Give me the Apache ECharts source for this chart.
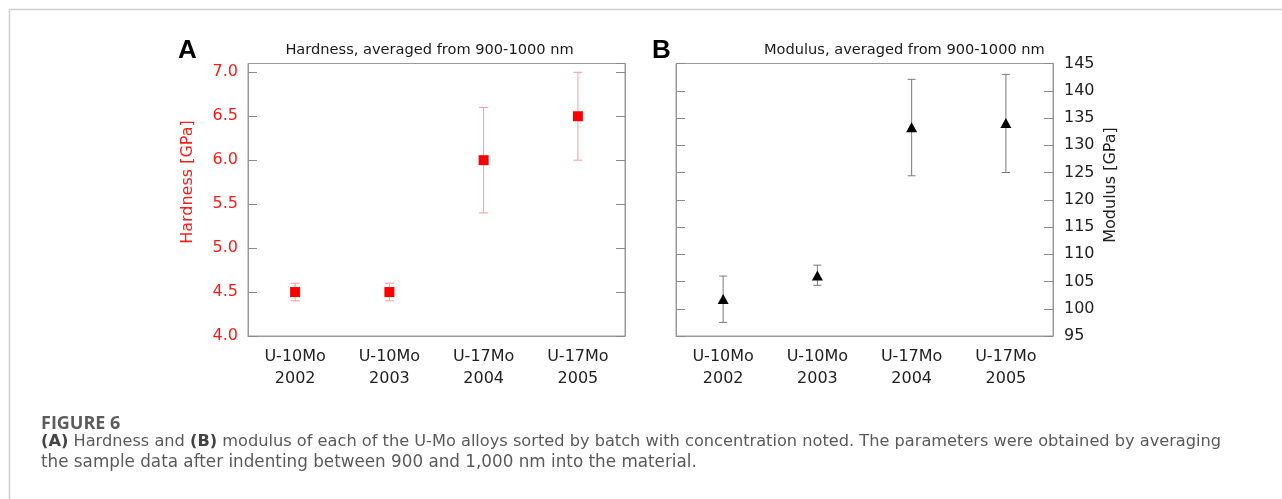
<!DOCTYPE html>
<html>
<head>
<meta charset="utf-8">
<script src="https://cdn.jsdelivr.net/npm/echarts@6/dist/echarts.min.js"></script>
<style>
  html, body { margin: 0; padding: 0; background: #fff; }
  #chart { width: 1282px; height: 499px; }
</style>
</head>
<body>
<div id="chart"></div>
<script>
// Batches (alloy + batch year)
const categories = ['U-10Mo\n2002', 'U-10Mo\n2003', 'U-17Mo\n2004', 'U-17Mo\n2005'];

// Hardness [GPa], averaged 900-1000 nm, with error range
const hardness     = [4.5, 4.5, 6.0, 6.5];
const hardnessLow  = [4.4, 4.4, 5.4, 6.0];
const hardnessHigh = [4.6, 4.6, 6.6, 7.0];

// Modulus [GPa], averaged 900-1000 nm, with error range
const modulus     = [101.8, 106.1, 133.3, 134.1];
const modulusLow  = [97.5, 104.3, 124.4, 125.0];
const modulusHigh = [106.0, 108.0, 142.1, 143.0];

const FONT = '"DejaVu Sans", Verdana, sans-serif';
const CAP_FONT = '"Open Sans", "Noto Sans", sans-serif';

function errorBars(color, capHalf) {
  return function (params, api) {
    const i = api.value(0);
    const top = api.coord([i, api.value(2)]);
    const bot = api.coord([i, api.value(1)]);
    const st = { stroke: color, lineWidth: 1 };
    return {
      type: 'group',
      children: [
        { type: 'line', shape: { x1: top[0], y1: top[1], x2: bot[0], y2: bot[1] }, style: st },
        { type: 'line', shape: { x1: top[0] - capHalf, y1: top[1], x2: top[0] + capHalf, y2: top[1] }, style: st },
        { type: 'line', shape: { x1: bot[0] - capHalf, y1: bot[1], x2: bot[0] + capHalf, y2: bot[1] }, style: st }
      ]
    };
  };
}

const chart = echarts.init(document.getElementById('chart'), null, { renderer: 'canvas' });

const frame = '#9a9a9a';
const tickColor = '#8a8a8a';

function xAxisFor(gridIndex) {
  return {
    type: 'category', gridIndex, data: categories, boundaryGap: true,
    axisLine: { show: true, lineStyle: { color: frame } },
    axisTick: { show: false },
    axisLabel: { color: '#222', fontFamily: FONT, fontSize: 16, lineHeight: 22, margin: 10 },
    splitLine: { show: false }
  };
}

function yAxisFor(gridIndex, position, min, max, interval, labelOpts) {
  return {
    type: 'value', gridIndex, position, min, max, interval,
    axisLine: { show: true, lineStyle: { color: frame } },
    axisTick: { show: true, inside: true, length: 9, lineStyle: { color: tickColor } },
    axisLabel: labelOpts,
    splitLine: { show: false }
  };
}

const option = {
  backgroundColor: '#fff',
  animation: false,
  grid: [
    { left: 248, top: 63.5, width: 377, height: 272.5, show: true, borderColor: frame, borderWidth: 1 },
    { left: 676, top: 63.5, width: 377, height: 272.5, show: true, borderColor: frame, borderWidth: 1 }
  ],
  xAxis: [xAxisFor(0), xAxisFor(1)],
  yAxis: [
    yAxisFor(0, 'left', 4, 7.1, 0.5, {
      show: true, color: '#ff1a1a', fontFamily: FONT, fontSize: 16, margin: 10,
      showMaxLabel: false, formatter: v => v.toFixed(1)
    }),
    yAxisFor(0, 'right', 4, 7.1, 0.5, { show: false }),
    yAxisFor(1, 'left', 95, 145, 5, { show: false }),
    yAxisFor(1, 'right', 95, 145, 5, {
      show: true, color: '#222', fontFamily: FONT, fontSize: 16, margin: 11
    })
  ],
  series: [
    {
      type: 'custom', xAxisIndex: 0, yAxisIndex: 0, z: 2,
      renderItem: errorBars('#ff9a9a', 4.5),
      data: categories.map((c, i) => [i, hardnessLow[i], hardnessHigh[i]])
    },
    {
      type: 'scatter', xAxisIndex: 0, yAxisIndex: 0, z: 3,
      symbol: 'rect', symbolSize: 10,
      itemStyle: { color: '#ff0000', opacity: 1 },
      data: categories.map((c, i) => [i, hardness[i]])
    },
    {
      type: 'custom', xAxisIndex: 1, yAxisIndex: 3, z: 2,
      renderItem: errorBars('#7a7a7a', 4),
      data: categories.map((c, i) => [i, modulusLow[i], modulusHigh[i]])
    },
    {
      type: 'scatter', xAxisIndex: 1, yAxisIndex: 3, z: 3,
      symbol: 'triangle', symbolSize: [11, 10],
      itemStyle: { color: '#000', opacity: 1 },
      data: categories.map((c, i) => [i, modulus[i]])
    }
  ],
  graphic: [
    // card frame
    { type: 'line', shape: { x1: 9, y1: 9.5, x2: 1282, y2: 9.5 }, style: { stroke: '#cfcfcf', lineWidth: 1.5 } },
    { type: 'line', shape: { x1: 9.5, y1: 9, x2: 9.5, y2: 499 }, style: { stroke: '#cfcfcf', lineWidth: 1.5 } },
    // panel letters
    { type: 'text', x: 178, y: 51, style: { text: 'A', font: 'bold 26px "Liberation Sans", Arial, sans-serif', fill: '#000', verticalAlign: 'middle' } },
    { type: 'text', x: 652, y: 51, style: { text: 'B', font: 'bold 26px "Liberation Sans", Arial, sans-serif', fill: '#000', verticalAlign: 'middle' } },
    // panel titles
    { type: 'text', x: 429.5, y: 50, style: { text: 'Hardness, averaged from 900-1000 nm', font: '14.6px ' + FONT, fill: '#1a1a1a', align: 'center', verticalAlign: 'middle' } },
    { type: 'text', x: 764, y: 50, style: { text: 'Modulus, averaged from 900-1000 nm', font: '14.6px ' + FONT, fill: '#1a1a1a', align: 'left', verticalAlign: 'middle' } },
    // axis names
    { type: 'text', x: 188, y: 182, rotation: Math.PI / 2, style: { text: 'Hardness [GPa]', font: '16px ' + FONT, fill: '#ff1a1a', align: 'center', verticalAlign: 'middle' } },
    { type: 'text', x: 1111, y: 185, rotation: Math.PI / 2, style: { text: 'Modulus [GPa]', font: '16px ' + FONT, fill: '#222', align: 'center', verticalAlign: 'middle' } },
    // caption
    { type: 'text', x: 41, y: 423.5, style: { text: 'FIGURE 6', font: 'bold 18px ' + CAP_FONT, fill: '#5c5c5c', verticalAlign: 'middle' } },
    {
      type: 'text', x: 41, y: 442,
      style: {
        text: '{b|(A)} Hardness and {b|(B)} modulus of each of the U-Mo alloys sorted by batch with concentration noted. The parameters were obtained by averaging',
        font: '16.2px ' + FONT, fill: '#5a5a5a', verticalAlign: 'middle',
        rich: { b: { fontWeight: 'bold', fontFamily: FONT, fontSize: 16.2, fill: '#444' } }
      }
    },
    {
      type: 'text', x: 41, y: 463,
      style: {
        text: 'the sample data after indenting between 900 and 1,000 nm into the material.',
        font: '16.8px ' + FONT, fill: '#5a5a5a', verticalAlign: 'middle'
      }
    }
  ]
};

chart.setOption(option);
</script>
</body>
</html>
